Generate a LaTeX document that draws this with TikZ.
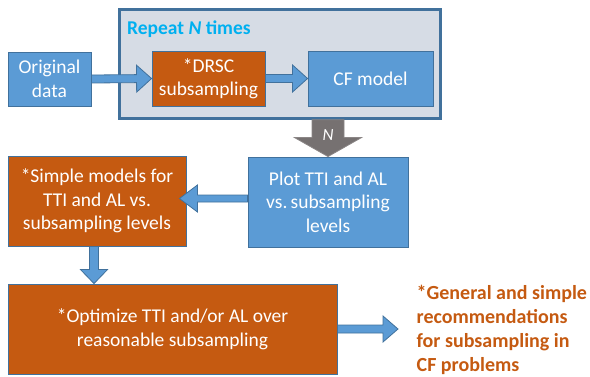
\documentclass[tikz,border=0pt]{standalone}
\usepackage{fontspec}
\setmainfont{Carlito}
\usetikzlibrary{calc}

\definecolor{boxblue}{HTML}{5B9BD5}
\definecolor{edgeblue}{HTML}{41719C}
\definecolor{boxorange}{HTML}{C55A11}
\definecolor{loopfill}{HTML}{D6DCE5}
\definecolor{loopblue}{HTML}{00B0F0}
\definecolor{arrowgray}{HTML}{767171}

% block arrow: [style]{start}{tip}{shaft half width}{head half width}{head length}
\newcommand\blockarrow[6][]{%
  \coordinate (ba-h) at ($(#3)!#6!(#2)$);
  \filldraw[#1]
    ($(#2)!#4!90:(#3)$) -- ($(ba-h)!#4!90:(#3)$) -- ($(ba-h)!#5!90:(#3)$)
    -- (#3)
    -- ($(ba-h)!#5!-90:(#3)$) -- ($(ba-h)!#4!-90:(#3)$) -- ($(#2)!#4!-90:(#3)$)
    -- cycle;
}

\tikzset{
  boxtext/.style={font=\fontsize{19.5}{23.5}\selectfont, text=white, align=center, inner sep=0pt},
  bluebox/.style={boxtext, draw=edgeblue, fill=boxblue, line width=0.9pt},
  orangebox/.style={boxtext, draw=edgeblue, fill=boxorange, line width=0.9pt},
  loopbox/.style={draw=edgeblue, fill=loopfill, line width=2.6pt, inner sep=0pt},
  bluearrow/.style={fill=boxblue, draw=edgeblue, line width=0.8pt},
  grayarrow/.style={fill=arrowgray, draw=arrowgray!85!white, line width=0.8pt},
}

\begin{document}
\begin{tikzpicture}[x=1pt, y=-1pt]
  \useasboundingbox (0,0) rectangle (590,376);

  % repeated loop
  \node[loopbox, minimum width=321pt, minimum height=109pt] (loop) at (280,64) {};
  \node[anchor=base west, inner sep=0pt, text=loopblue,
        font=\fontsize{19.5}{23.5}\selectfont\bfseries] (looplabel) at (127,34)
        {Repeat \textit{N} times};

  \node[bluebox, minimum width=83pt, minimum height=54pt] (orig) at (49.5,79) {Original\\data};
  \node[orangebox, minimum width=113pt, minimum height=55pt] (drsc) at (208.5,78.5) {*DRSC\\subsampling};
  \node[bluebox, minimum width=125pt, minimum height=55pt] (cf) at (370.5,78.5) {CF model};

  \node[bluebox, minimum width=160pt, minimum height=90pt] (plot) at (328,202)
        {Plot TTI and AL\\vs.\,subsampling\\levels};
  \node[orangebox, minimum width=178pt, minimum height=90pt] (simple) at (97,201)
        {*Simple models for\\TTI and AL vs.\\subsampling levels};
  \node[orangebox, minimum width=329pt, minimum height=90pt] (opt) at (172.5,329)
        {*Optimize TTI and/or AL over\\reasonable subsampling};

  \node[anchor=north west, inner sep=0pt, align=left, text=boxorange,
        font=\fontsize{20}{24}\selectfont\bfseries] (rec) at (416.5,285)
        {*General and simple\\recommendations\\for subsampling in\\CF problems};

  % connectors
  \blockarrow[bluearrow]{orig.east}{drsc.west}{4pt}{13.5pt}{15pt}
  \blockarrow[bluearrow]{drsc.east}{cf.west}{4pt}{13.5pt}{15pt}

  \coordinate (ntop) at (plot.north |- loop.south);
  \blockarrow[grayarrow]{ntop}{plot.north}{16pt}{33.5pt}{19pt}
  \node[text=white, inner sep=0pt, font=\fontsize{17}{20}\selectfont\itshape] (nlabel) at (328,135.5) {N};

  \coordinate (pstart) at ([yshift=3.5pt]plot.west);
  \coordinate (ptip) at ([xshift=-7pt]simple.east |- pstart);
  \blockarrow[bluearrow]{pstart}{ptip}{3.5pt}{13.5pt}{18pt}

  \coordinate (sstart) at ([xshift=-3pt]simple.south);
  \coordinate (stip) at (sstart |- opt.north);
  \blockarrow[bluearrow]{sstart}{stip}{4.5pt}{13.5pt}{14pt}

  \coordinate (rtip) at ([xshift=-18.5pt]rec.west |- opt.east);
  \blockarrow[bluearrow]{opt.east}{rtip}{4pt}{13pt}{15pt}
\end{tikzpicture}
\end{document}
